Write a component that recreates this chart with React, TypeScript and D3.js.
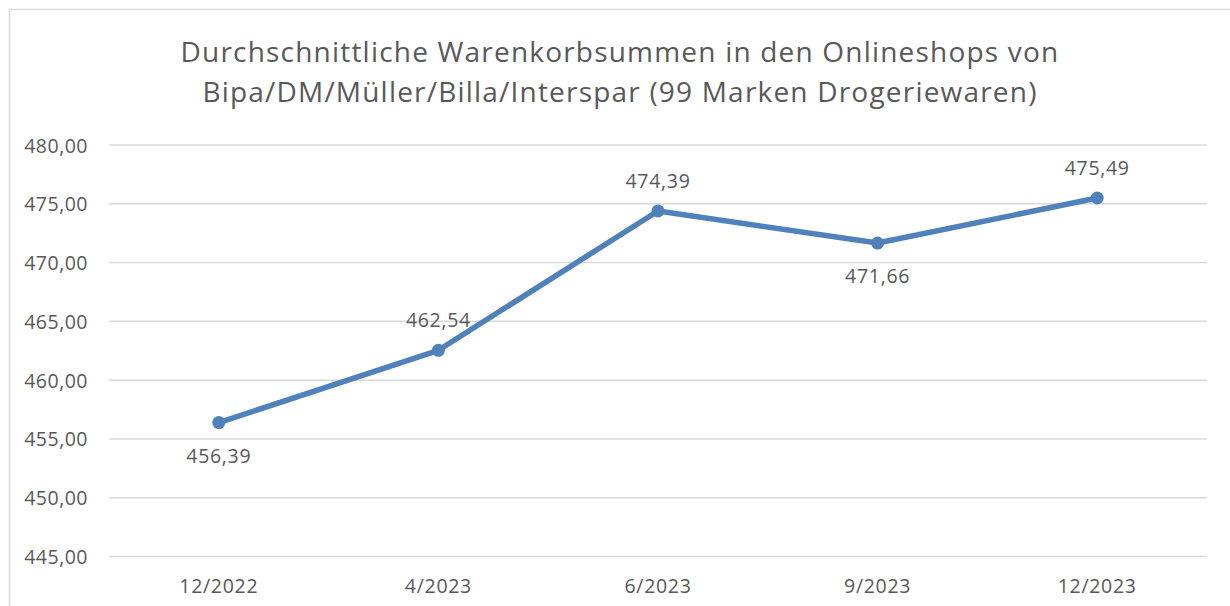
import React from "react";
import * as d3 from "d3";

const categories = ["12/2022", "4/2023", "6/2023", "9/2023", "12/2023"];
const values = [456.39, 462.54, 474.39, 471.66, 475.49];
const labelBelow = [true, false, false, true, false];
const yTicks = [445, 450, 455, 460, 465, 470, 475, 480];
const titleLines = [
  "Durchschnittliche Warenkorbsummen in den Onlineshops von",
  "Bipa/DM/Müller/Billa/Interspar (99 Marken Drogeriewaren)",
];

const W = 1230;
const H = 606;
const fmt = (v: number) => v.toFixed(2).replace(".", ",");

export default function App() {
  const x = d3.scaleBand().domain(categories).range([109, 1207]);
  const y = d3.scaleLinear().domain([445, 480]).range([556.5, 145]);
  const line = d3
    .line<number>()
    .x((_, i) => x(categories[i])! + x.bandwidth() / 2)
    .y((d) => y(d));
  const font = "'Open Sans', sans-serif";
  const gray = "#595959";
  const ls = 0.5;
  return (
    <svg
      width={W}
      height={H}
      style={{ position: "absolute", left: 0, top: 0, background: "#fff" }}
      fontFamily={font}
    >
      <rect x={9.5} y={9.5} width={1240} height={620} fill="#fff" stroke="#d9d9d9" strokeWidth={1.5} />
      {titleLines.map((t, i) => (
        <text key={i} x={620} y={62 + i * 40} textAnchor="middle" fontSize={28} letterSpacing={1.2} fill={gray}>
          {t}
        </text>
      ))}
      {yTicks.map((t) => (
        <g key={t}>
          <line x1={109} x2={1207} y1={y(t)} y2={y(t)} stroke="#d9d9d9" strokeWidth={1.5} />
          <text x={88} y={y(t) + 7.5} textAnchor="end" fontSize={19.5} letterSpacing={ls} fill={gray}>
            {fmt(t)}
          </text>
        </g>
      ))}
      {categories.map((c) => (
        <text key={c} x={x(c)! + x.bandwidth() / 2} y={593} textAnchor="middle" fontSize={19.5} letterSpacing={0.7} fill={gray}>
          {c}
        </text>
      ))}
      <path d={line(values)!} fill="none" stroke="#4f81bd" strokeWidth={5.5} strokeLinejoin="round" />
      {values.map((v, i) => {
        const cx = x(categories[i])! + x.bandwidth() / 2;
        const cy = y(v);
        return (
          <g key={i}>
            <circle cx={cx} cy={cy} r={6.5} fill="#4f81bd" />
            <text
              x={cx}
              y={labelBelow[i] ? cy + 40 : cy - 23}
              textAnchor="middle"
              fontSize={19.5}
              letterSpacing={0.7}
              fill={gray}
            >
              {fmt(v)}
            </text>
          </g>
        );
      })}
    </svg>
  );
}
